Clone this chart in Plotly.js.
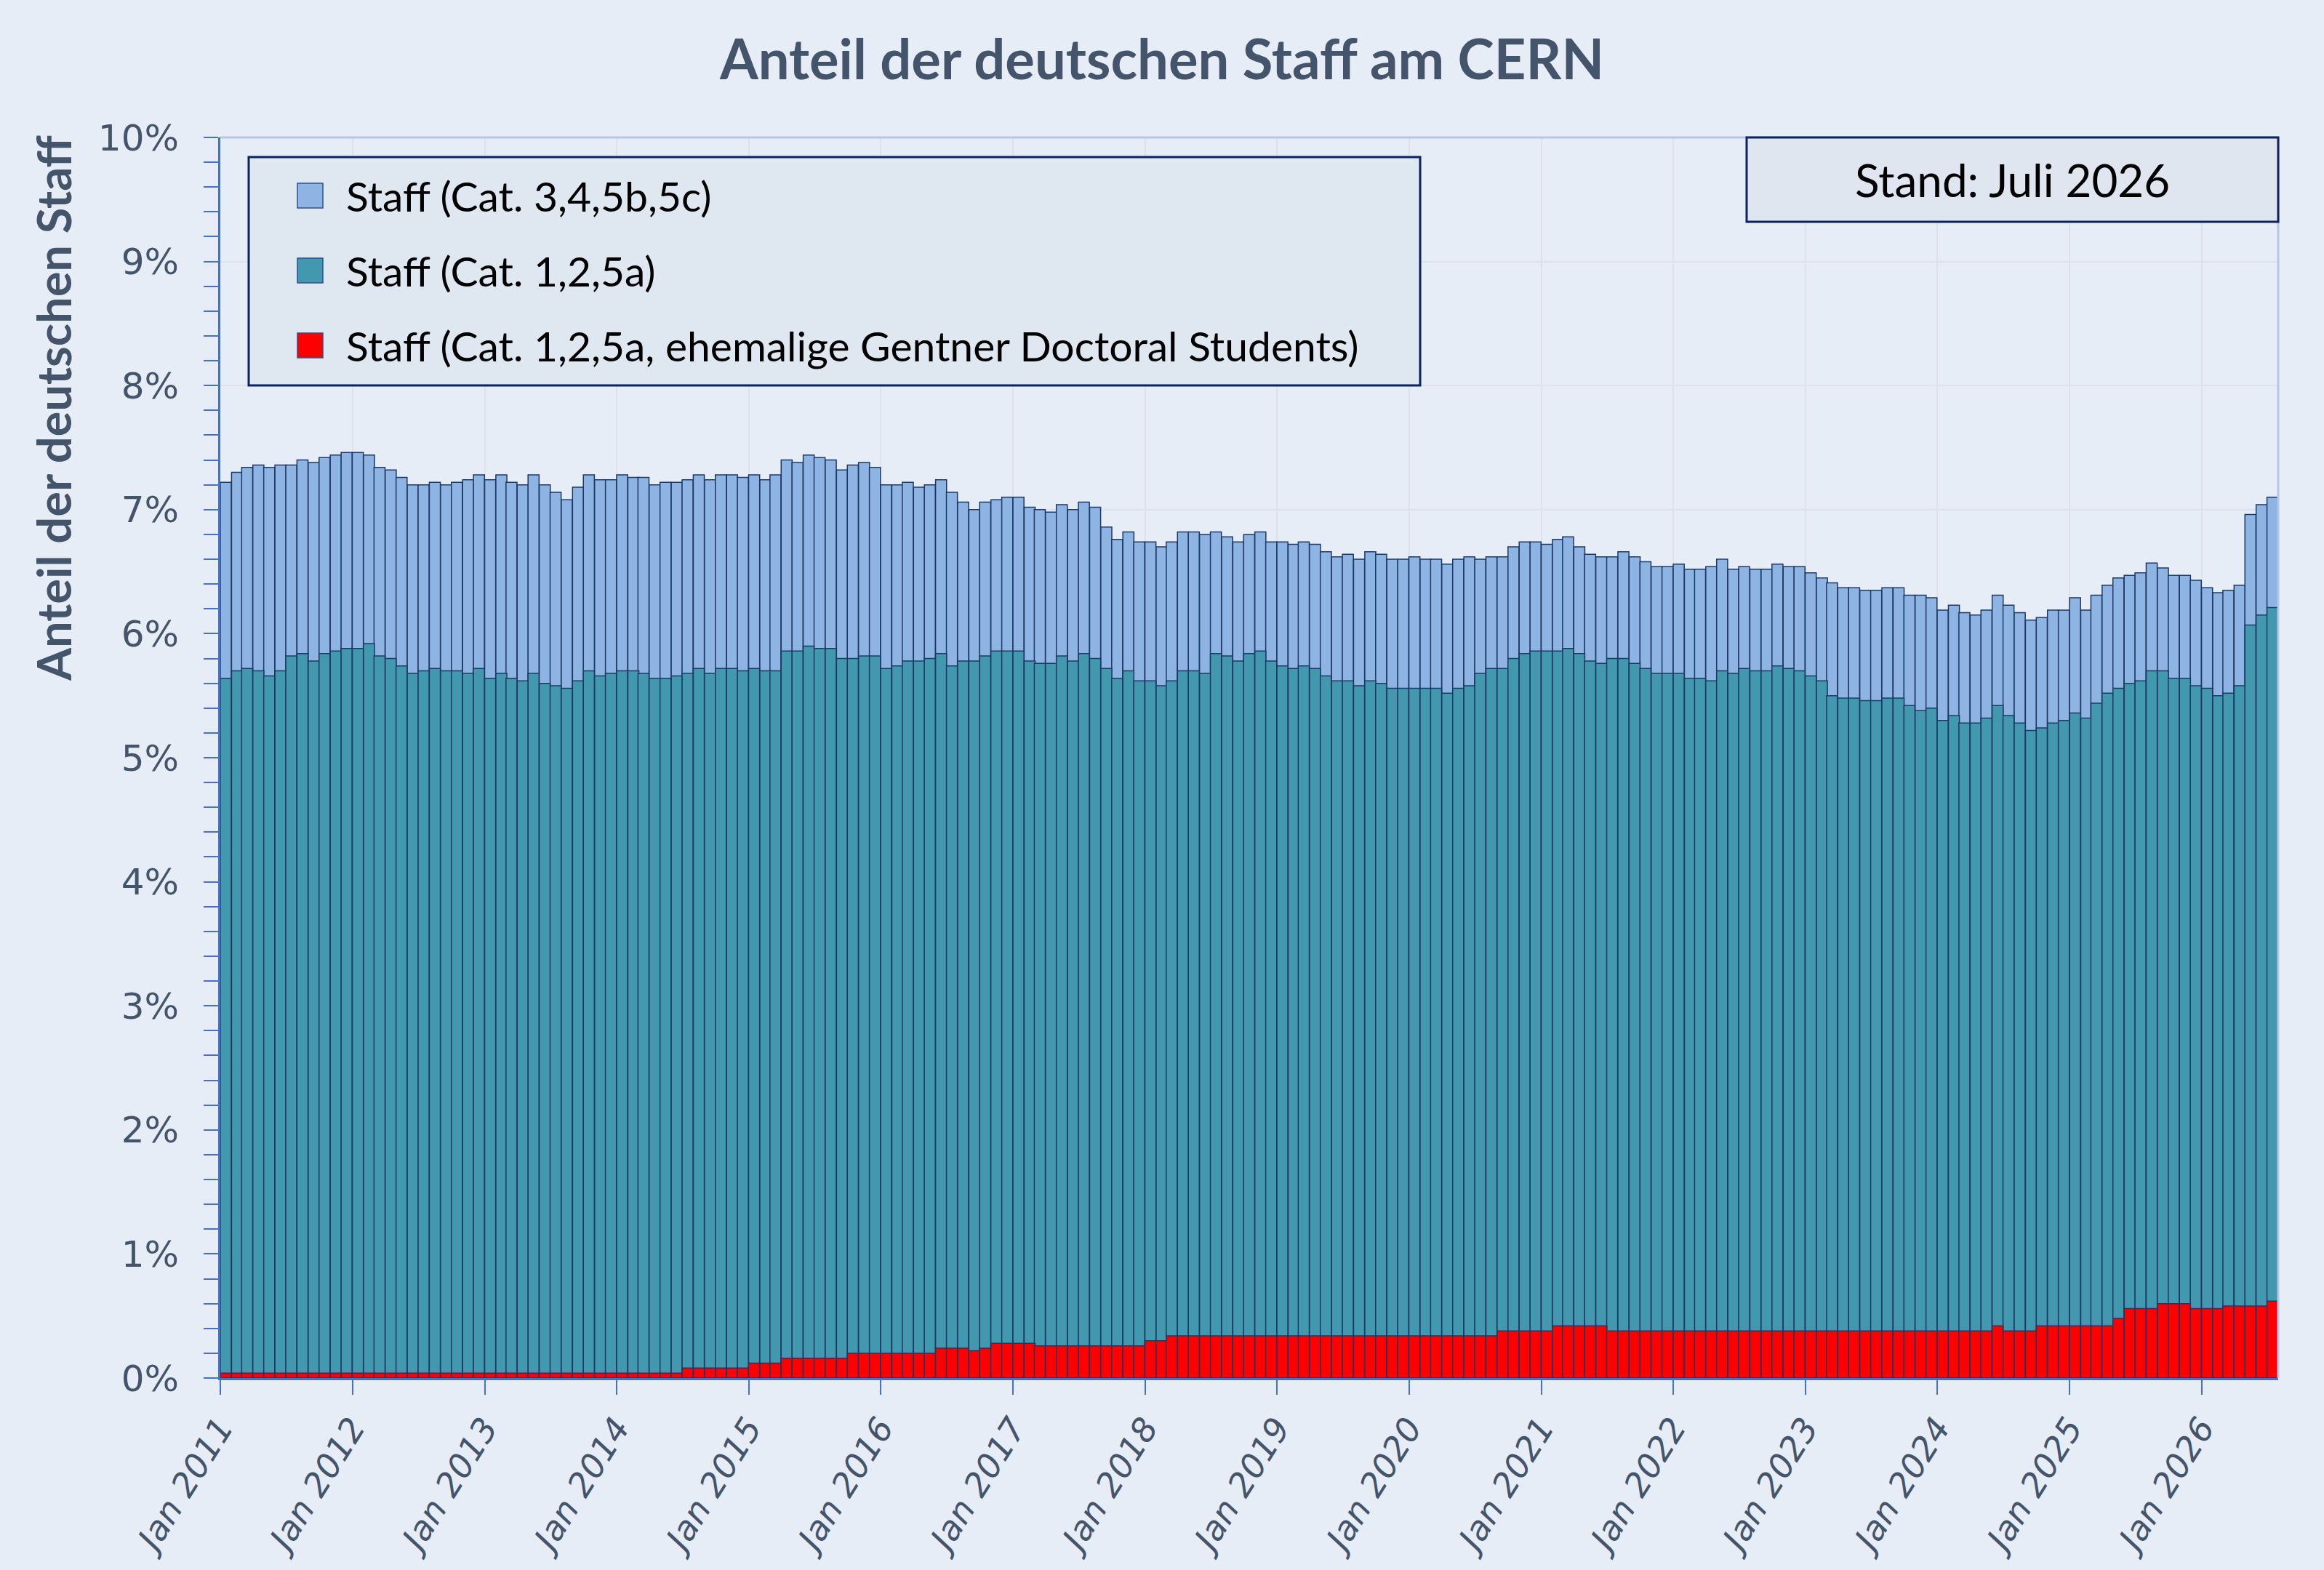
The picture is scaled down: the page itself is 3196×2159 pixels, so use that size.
<!DOCTYPE html>
<html>
<head>
<meta charset="utf-8">
<script src="https://cdn.plot.ly/plotly-3.0.1.min.js"></script>
<style>
  html, body { margin: 0; padding: 0; background: #E7EDF6; }
</style>
</head>
<body>
<div id="chart"></div>
<script>
// Anteil in %, monatlich Jan 2011 .. Jul 2026
const totalShare = [
  7.22,7.30,7.34,7.36,7.34,7.36,7.36,7.40,7.38,7.42,7.44,7.46,
  7.46,7.44,7.34,7.32,7.26,7.20,7.20,7.22,7.20,7.22,7.24,7.28,
  7.24,7.28,7.22,7.20,7.28,7.20,7.14,7.08,7.18,7.28,7.24,7.24,
  7.28,7.26,7.26,7.20,7.22,7.22,7.24,7.28,7.24,7.28,7.28,7.26,
  7.28,7.24,7.28,7.40,7.38,7.44,7.42,7.40,7.32,7.36,7.38,7.34,
  7.20,7.20,7.22,7.18,7.20,7.24,7.14,7.06,7.00,7.06,7.08,7.10,
  7.10,7.02,7.00,6.98,7.04,7.00,7.06,7.02,6.86,6.76,6.82,6.74,
  6.74,6.70,6.74,6.82,6.82,6.80,6.82,6.78,6.74,6.80,6.82,6.74,
  6.74,6.72,6.74,6.72,6.66,6.62,6.64,6.60,6.66,6.64,6.60,6.60,
  6.62,6.60,6.60,6.56,6.60,6.62,6.60,6.62,6.62,6.70,6.74,6.74,
  6.72,6.76,6.78,6.70,6.64,6.62,6.62,6.66,6.62,6.58,6.54,6.54,
  6.56,6.52,6.52,6.54,6.60,6.52,6.54,6.52,6.52,6.56,6.54,6.54,
  6.49,6.45,6.41,6.37,6.37,6.35,6.35,6.37,6.37,6.31,6.31,6.29,
  6.19,6.23,6.17,6.15,6.19,6.31,6.23,6.17,6.11,6.13,6.19,6.19,
  6.29,6.19,6.31,6.39,6.45,6.47,6.49,6.57,6.53,6.47,6.47,6.43,
  6.37,6.33,6.35,6.39,6.96,7.04,7.10
];

const cat125Share = [
  5.64,5.70,5.72,5.70,5.66,5.70,5.82,5.84,5.78,5.84,5.86,5.88,
  5.88,5.92,5.82,5.80,5.74,5.68,5.70,5.72,5.70,5.70,5.68,5.72,
  5.64,5.68,5.64,5.62,5.68,5.60,5.58,5.56,5.62,5.70,5.66,5.68,
  5.70,5.70,5.68,5.64,5.64,5.66,5.68,5.72,5.68,5.72,5.72,5.70,
  5.72,5.70,5.70,5.86,5.86,5.90,5.88,5.88,5.80,5.80,5.82,5.82,
  5.72,5.74,5.78,5.78,5.80,5.84,5.74,5.78,5.78,5.82,5.86,5.86,
  5.86,5.78,5.76,5.76,5.82,5.78,5.84,5.80,5.72,5.64,5.70,5.62,
  5.62,5.58,5.62,5.70,5.70,5.68,5.84,5.82,5.78,5.84,5.86,5.78,
  5.74,5.72,5.74,5.72,5.66,5.62,5.62,5.58,5.62,5.60,5.56,5.56,
  5.56,5.56,5.56,5.52,5.56,5.58,5.68,5.72,5.72,5.80,5.84,5.86,
  5.86,5.86,5.88,5.84,5.78,5.76,5.80,5.80,5.76,5.72,5.68,5.68,
  5.68,5.64,5.64,5.62,5.70,5.68,5.72,5.70,5.70,5.74,5.72,5.70,
  5.66,5.62,5.50,5.48,5.48,5.46,5.46,5.48,5.48,5.42,5.38,5.40,
  5.30,5.34,5.28,5.28,5.32,5.42,5.34,5.28,5.22,5.24,5.28,5.30,
  5.36,5.32,5.44,5.52,5.56,5.60,5.62,5.70,5.70,5.64,5.64,5.58,
  5.56,5.50,5.52,5.58,6.07,6.15,6.21
];

const gentnerShare = [
  0.04,0.04,0.04,0.04,0.04,0.04,0.04,0.04,0.04,0.04,0.04,0.04,
  0.04,0.04,0.04,0.04,0.04,0.04,0.04,0.04,0.04,0.04,0.04,0.04,
  0.04,0.04,0.04,0.04,0.04,0.04,0.04,0.04,0.04,0.04,0.04,0.04,
  0.04,0.04,0.04,0.04,0.04,0.04,0.08,0.08,0.08,0.08,0.08,0.08,
  0.12,0.12,0.12,0.16,0.16,0.16,0.16,0.16,0.16,0.20,0.20,0.20,
  0.20,0.20,0.20,0.20,0.20,0.24,0.24,0.24,0.22,0.24,0.28,0.28,
  0.28,0.28,0.26,0.26,0.26,0.26,0.26,0.26,0.26,0.26,0.26,0.26,
  0.30,0.30,0.34,0.34,0.34,0.34,0.34,0.34,0.34,0.34,0.34,0.34,
  0.34,0.34,0.34,0.34,0.34,0.34,0.34,0.34,0.34,0.34,0.34,0.34,
  0.34,0.34,0.34,0.34,0.34,0.34,0.34,0.34,0.38,0.38,0.38,0.38,
  0.38,0.42,0.42,0.42,0.42,0.42,0.38,0.38,0.38,0.38,0.38,0.38,
  0.38,0.38,0.38,0.38,0.38,0.38,0.38,0.38,0.38,0.38,0.38,0.38,
  0.38,0.38,0.38,0.38,0.38,0.38,0.38,0.38,0.38,0.38,0.38,0.38,
  0.38,0.38,0.38,0.38,0.38,0.42,0.38,0.38,0.38,0.42,0.42,0.42,
  0.42,0.42,0.42,0.42,0.48,0.56,0.56,0.56,0.60,0.60,0.60,0.56,
  0.56,0.56,0.58,0.58,0.58,0.58,0.62
];

const legendLabels = [
  'Staff (Cat. 3,4,5b,5c)',
  'Staff (Cat. 1,2,5a)',
  'Staff (Cat. 1,2,5a, ehemalige Gentner Doctoral Students)'
];
const seriesColors = ['#8EB4E3', '#4298AF', '#FF0000'];
const standText = 'Stand: Juli 2026';

// Monatsanfang fuer jeden Balken
const months = [];
for (let i = 0; i < totalShare.length; i++) {
  const yr = 2011 + Math.floor(i / 12);
  const mo = String(i % 12 + 1).padStart(2, '0');
  months.push(yr + '-' + mo + '-01');
}

const monthMs = 30.44 * 24 * 3600 * 1000;
const outline = { color: '#1F3864', width: 1.5 };

function barTrace(values, color) {
  return {
    type: 'bar',
    x: months,
    y: values,
    width: monthMs,
    offset: 0,
    marker: { color: color, line: outline },
    hoverinfo: 'x+y',
    showlegend: false
  };
}

const traces = [
  barTrace(totalShare, seriesColors[0]),
  barTrace(cat125Share, seriesColors[1]),
  barTrace(gentnerShare, seriesColors[2])
];

// Plotflaeche in Pixeln: links 303, rechts 3133, oben 189, unten 1895
const px = X => (X - 303) / 2830;
const py = Y => (1895 - Y) / 1706;

const shapes = [
  // obere und rechte Rahmenlinie
  { type: 'line', xref: 'paper', yref: 'paper', x0: 0, x1: 1, y0: 1, y1: 1,
    line: { color: '#B4C7E7', width: 3 } },
  { type: 'line', xref: 'paper', yref: 'paper', x0: 1, x1: 1, y0: 0, y1: 1,
    line: { color: '#B4C7E7', width: 3 } },
  // Legendenkasten
  { type: 'rect', xref: 'paper', yref: 'paper', layer: 'above',
    x0: px(342), x1: px(1953), y0: py(530), y1: py(216),
    fillcolor: '#DFE7F1', line: { color: '#0B2361', width: 3 } },
  // Stand-Kasten
  { type: 'rect', xref: 'paper', yref: 'paper', layer: 'above',
    x0: px(2402), x1: px(3133), y0: py(305), y1: py(189),
    fillcolor: '#DFE6EF', line: { color: '#0B2361', width: 3 } }
];

const annotations = [
  { xref: 'paper', yref: 'paper', x: px(73), y: py(561), textangle: -90,
    xanchor: 'center', yanchor: 'middle',
    text: '<b>Anteil der deutschen Staff</b>', showarrow: false,
    font: { family: 'Lato', size: 65, color: '#44546A' } },
  { xref: 'paper', yref: 'paper', x: px(2767), y: py(247),
    xanchor: 'center', yanchor: 'middle',
    text: standText, showarrow: false,
    font: { family: 'Lato', size: 62, color: '#000000' } }
];

const rowY = [269, 372, 475];
legendLabels.forEach((label, i) => {
  shapes.push({
    type: 'rect', xref: 'paper', yref: 'paper', layer: 'above',
    x0: px(409), x1: px(444), y0: py(rowY[i] + 17), y1: py(rowY[i] - 17),
    fillcolor: seriesColors[i], line: { color: '#2F4F8F', width: 1.5 }
  });
  annotations.push({
    xref: 'paper', yref: 'paper', x: px(474), y: py(rowY[i]),
    xanchor: 'left', yanchor: 'middle', text: label, showarrow: false,
    font: { family: 'Lato', size: 57, color: '#000000' }
  });
});

const layout = {
  width: 3196,
  height: 2159,
  paper_bgcolor: '#E7EDF6',
  plot_bgcolor: '#E7EDF6',
  margin: { l: 303, r: 63, t: 189, b: 264 },
  barmode: 'overlay',
  bargap: 0,
  title: {
    text: '<b>Anteil der deutschen Staff am CERN</b>',
    x: 0.5, xref: 'container', y: 0.962, yanchor: 'middle',
    font: { family: 'Lato', size: 76, color: '#44546A' }
  },
  xaxis: {
    type: 'date',
    range: ['2011-01-01', '2026-08-01'],
    tick0: '2011-01-01',
    dtick: 'M12',
    tickformat: '%b %Y',
    tickangle: -58,
    ticks: 'outside',
    ticklen: 20,
    tickwidth: 2,
    tickcolor: '#4472C4',
    showline: true,
    linecolor: '#4472C4',
    linewidth: 3,
    showgrid: true,
    gridcolor: '#DCE1EA',
    gridwidth: 2,
    tickfont: { family: 'DejaVu Sans', size: 46, color: '#44546A', style: 'italic' }
  },
  yaxis: {
    range: [0, 10],
    dtick: 1,
    ticksuffix: '%',
    ticks: 'outside',
    ticklen: 20,
    tickwidth: 2,
    tickcolor: '#4472C4',
    minor: { dtick: 0.2, ticks: 'outside', ticklen: 20, tickwidth: 2, tickcolor: '#4472C4', showgrid: false },
    showline: true,
    linecolor: '#4472C4',
    linewidth: 3,
    zeroline: false,
    showgrid: true,
    gridcolor: '#DCE1EA',
    gridwidth: 2,
    ticklabelstandoff: 24,
    tickfont: { family: 'DejaVu Sans', size: 50, color: '#44546A' }
  },
  shapes: shapes,
  annotations: annotations,
  showlegend: false
};

Plotly.newPlot('chart', traces, layout, { displayModeBar: false, staticPlot: true });
</script>
</body>
</html>
